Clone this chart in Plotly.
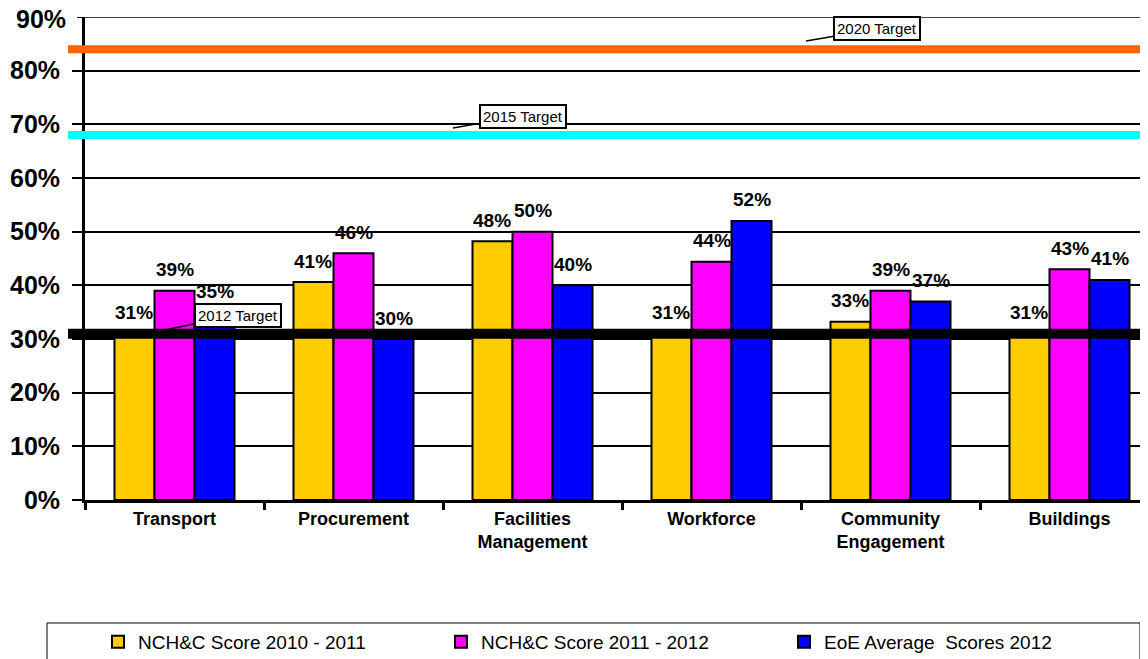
import plotly.graph_objects as go

categories = ["Transport", "Procurement", "Facilities<br>Management", "Workforce",
              "Community<br>Engagement", "Buildings"]
score_2010_11 = [0.31, 0.406, 0.482, 0.31, 0.332, 0.31]
score_2011_12 = [0.39, 0.46, 0.50, 0.444, 0.39, 0.43]
eoe_2012 = [0.35, 0.30, 0.40, 0.52, 0.37, 0.41]
series_names = ["NCH&C Score 2010 - 2011", "NCH&C Score 2011 - 2012", "EoE Average  Scores 2012"]
series_colors = ["#FFCC00", "#FF00FF", "#0000FF"]
target_names = ["2012 Target", "2015 Target", "2020 Target"]
target_values = [0.31, 0.68, 0.84]
target_colors = ["#000000", "#00FFFF", "#FF6600"]
target_widths = [10, 8, 8]
y_ticks = [0, 0.1, 0.2, 0.3, 0.4, 0.5, 0.6, 0.7, 0.8, 0.9]
y_tick_labels = ["0%", "10%", "20%", "30%", "40%", "50%", "60%", "70%", "80%", "90%"]

FONT = "Arial, Liberation Sans, sans-serif"
OFF = 8  # default page body margin
W, H = 1148 - OFF, 659 - OFF
ML, MR, MT, MB = 85 - OFF, 0, 17 - OFF, 159
PW = W - ML - MR
PH = H - MT - MB
CAT_PX = 179
BAR_W = 0.2235
TICK_FONT = dict(family=FONT, size=25, color="#000000", weight="bold")

def px_x(px):
    return (px - OFF - ML) / PW

def px_y(py):
    return (H - MB - (py - OFF)) / PH

fig = go.Figure()
all_series = [score_2010_11, score_2011_12, eoe_2012]
for name, vals, col in zip(series_names, all_series, series_colors):
    fig.add_trace(go.Bar(
        x=categories, y=vals, name=name,
        marker=dict(color=col, line=dict(color="#000000", width=2)),
        width=BAR_W,
    ))

# data labels
offsets = [-BAR_W, 0, BAR_W]
for s, vals in enumerate(all_series):
    for i, v in enumerate(vals):
        fig.add_annotation(
            x=i + offsets[s], y=v, xref="x", yref="y",
            text=f"{round(v * 100):.0f}%", showarrow=False,
            yshift=21, yanchor="middle",
            font=dict(family=FONT, size=19, color="#000000", weight="bold"),
        )

# top (last) tick: gridline, tick mark and label drawn explicitly so it is not dropped at the edge
top_val = y_ticks[-1]
fig.add_shape(type="line", xref="paper", yref="y", x0=0, x1=1, y0=top_val, y1=top_val,
              line=dict(color="#000000", width=1.5), layer="below")
fig.add_shape(type="line", xref="paper", yref="y", x0=px_x(77), x1=0, y0=top_val, y1=top_val,
              line=dict(color="#000000", width=2), layer="above")
fig.add_annotation(x=0, y=top_val, xref="paper", yref="y", xanchor="right", yanchor="middle",
                   xshift=-11, yshift=-2, showarrow=False, text=y_tick_labels[-1] + "\u00a0",
                   font=TICK_FONT, borderpad=0)

# target lines
for val, col, wd in zip(target_values, target_colors, target_widths):
    fig.add_shape(type="line", xref="paper", yref="y",
                  x0=px_x(68), x1=1.0, y0=val, y1=val,
                  line=dict(color=col, width=wd), layer="above")

# target callouts (tip position in page pixels, box offset)
callouts = [
    (target_names[0], 160, 331, 78, -16),
    (target_names[1], 453, 128, 70, -12),
    (target_names[2], 806, 41, 71, -12),
]
for txt, tx, ty, ax, ay in callouts:
    fig.add_annotation(
        x=px_x(tx), y=px_y(ty), xref="paper", yref="paper",
        text=txt, showarrow=True, arrowhead=0, arrowwidth=1.5, arrowcolor="#000000",
        ax=ax, ay=ay, standoff=0,
        font=dict(family=FONT, size=15, color="#000000"),
        bgcolor="#FFFFFF", bordercolor="#000000", borderwidth=2, borderpad=2,
    )

# legend box
fig.add_shape(type="rect", xref="paper", yref="paper",
              x0=px_x(47), x1=px_x(1140), y0=px_y(623), y1=px_y(690),
              line=dict(color="#000000", width=1), fillcolor="rgba(0,0,0,0)")

fig.update_layout(
    width=W, height=H,
    margin=dict(l=ML, r=MR, t=MT, b=MB, autoexpand=False),
    plot_bgcolor="#FFFFFF", paper_bgcolor="#FFFFFF",
    barmode="group", bargap=1 - 3 * BAR_W, bargroupgap=0,
    font=dict(family=FONT, color="#000000"),
    showlegend=True,
    legend=dict(
        orientation="h", xref="container", yref="container",
        x=(98 - OFF) / W, y=1 - (623 - OFF) / H, xanchor="left", yanchor="top",
        font=dict(family=FONT, size=19, color="#000000"),
        entrywidth=298, entrywidthmode="pixels",
        bgcolor="rgba(0,0,0,0)", borderwidth=0,
    ),
    xaxis=dict(
        type="category", range=[-0.5, -0.5 + PW / CAT_PX], automargin=False,
        showgrid=False, showline=True, linecolor="#000000", linewidth=3,
        ticks="outside", tickson="boundaries", ticklen=7, tickwidth=3, tickcolor="#000000",
        tickfont=dict(family=FONT, size=18, color="#000000", weight="bold"),
        zeroline=False,
    ),
    yaxis=dict(
        range=[0, top_val], tickvals=y_ticks[:-1],
        ticktext=[t + "\u00a0" for t in y_tick_labels[:-1]],
        automargin=False,
        showgrid=True, gridcolor="#000000", gridwidth=1.5,
        showline=True, linecolor="#000000", linewidth=3,
        ticks="outside", ticklen=10, tickwidth=2, tickcolor="#000000",
        tickfont=TICK_FONT,
        zeroline=False,
    ),
)

fig.write_html("out.html")
